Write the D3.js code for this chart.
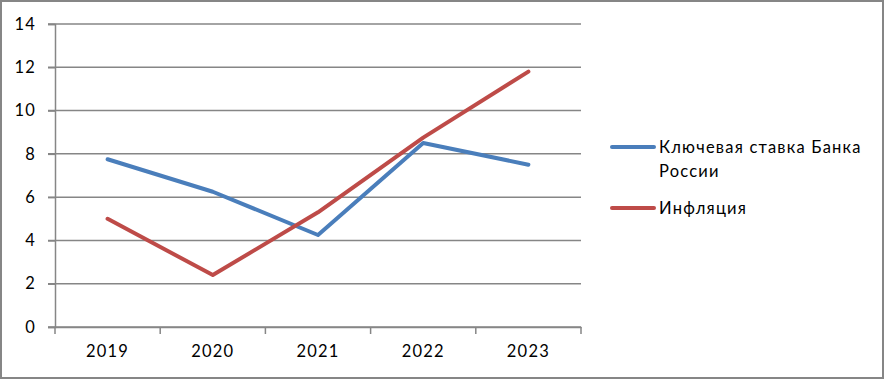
<!DOCTYPE html>
<html><head><meta charset="utf-8">
<script src="https://cdn.jsdelivr.net/npm/d3@7"></script>
<style>body{margin:0;background:#fff}svg{display:block}text{letter-spacing:1.2px}</style>
</head><body><svg id="c" width="885" height="380"></svg>
<script>
const categories = ["2019","2020","2021","2022","2023"];
const keyRate = [7.75, 6.25, 4.25, 8.5, 7.5];
const inflation = [5.0, 2.4, 5.3, 8.75, 11.8];
const seriesNames = ["Ключевая ставка Банка России", "Инфляция"];
const yTicks = [0,2,4,6,8,10,12,14];

const svg = d3.select("#c");
const font = "Lato, 'Open Sans', sans-serif";
const fs = 16.5;
const grid = "#868686";
svg.append("rect").attr("x",1).attr("y",1).attr("width",882).attr("height",377)
  .attr("fill","#fff").attr("stroke",grid).attr("stroke-width",2);

const x = d3.scaleBand().domain(categories).range([55,581]).padding(0);
const y = d3.scaleLinear().domain([0,14]).range([327,24]);

// gridlines
svg.append("g").selectAll("line").data(yTicks).join("line")
  .attr("x1",48).attr("x2",581).attr("y1",d=>y(d)).attr("y2",d=>y(d))
  .attr("stroke",grid).attr("stroke-width",1.5);

// y axis
const ya = svg.append("g").attr("transform","translate(55,0)")
  .call(d3.axisLeft(y).tickValues(yTicks).tickSize(7).tickPadding(12));
ya.select(".domain").attr("stroke",grid).attr("stroke-width",1.5);
ya.selectAll(".tick line").attr("stroke",grid).attr("stroke-width",1.5);
ya.selectAll("text").attr("font-family",font).attr("font-size",fs).attr("fill","#000");

// x axis
const xa = svg.append("g").attr("transform","translate(0,327)")
  .call(d3.axisBottom(x).tickSize(0).tickPadding(18));
xa.select(".domain").attr("stroke",grid).attr("stroke-width",1.5);
xa.selectAll("text").attr("font-family",font).attr("font-size",fs).attr("fill","#000");
const bounds = categories.map(c=>x(c)).concat([x.range()[1]]);
svg.append("g").selectAll("line").data(bounds).join("line")
  .attr("x1",d=>d).attr("x2",d=>d).attr("y1",327).attr("y2",334)
  .attr("stroke",grid).attr("stroke-width",1.5);

const cx = c => x(c) + x.bandwidth()/2;
const line = d3.line().x((d,i)=>cx(categories[i])).y(d=>y(d));
const colors = ["#4A7EBB","#BE4B48"];
[keyRate, inflation].forEach((s,i)=>{
  svg.append("path").attr("d",line(s)).attr("fill","none")
    .attr("stroke",colors[i]).attr("stroke-width",4)
    .attr("stroke-linecap","round").attr("stroke-linejoin","round");
});

// legend
const lg = svg.append("g");
lg.append("line").attr("x1",612).attr("x2",654).attr("y1",147).attr("y2",147)
  .attr("stroke",colors[0]).attr("stroke-width",4).attr("stroke-linecap","round");
const t1 = lg.append("text").attr("font-family",font).attr("font-size",fs).attr("fill","#000");
t1.append("tspan").attr("x",659).attr("y",153).text("Ключевая ставка Банка");
t1.append("tspan").attr("x",659).attr("y",177).text("России");
lg.append("line").attr("x1",612).attr("x2",654).attr("y1",208).attr("y2",208)
  .attr("stroke",colors[1]).attr("stroke-width",4).attr("stroke-linecap","round");
lg.append("text").attr("x",659).attr("y",214).attr("font-family",font).attr("font-size",fs)
  .attr("fill","#000").text(seriesNames[1]);
</script></body></html>
